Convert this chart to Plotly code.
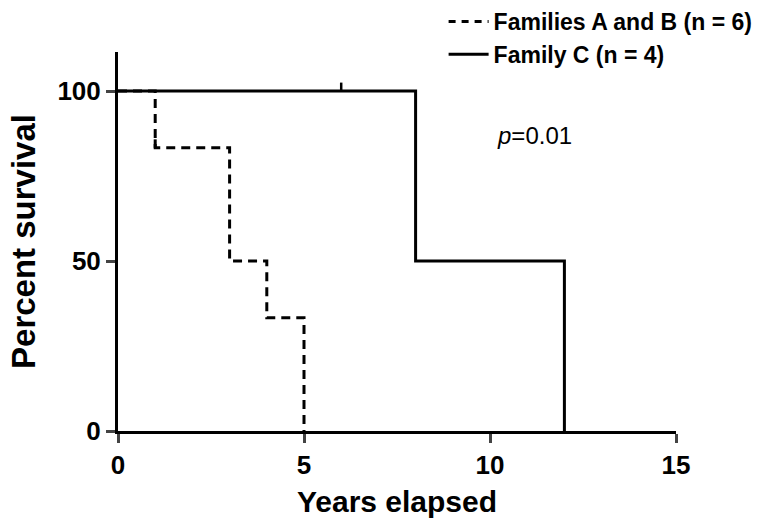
import plotly.graph_objects as go

# Kaplan-Meier step data
ab_times = [0, 1, 3, 4, 5]
ab_surv = [100, 83.3, 50, 33.3, 0]
ab_censor = [1]

c_times = [0, 8, 12]
c_surv = [100, 50, 0]
c_censor = [6]

x_ticks = [0, 5, 10, 15]
y_ticks = [0, 50, 100]

FONT = "Liberation Sans, Arial"

def step(times, surv):
    xs, ys = [], []
    for i, (t, s) in enumerate(zip(times, surv)):
        if i > 0:
            xs.append(t); ys.append(surv[i - 1])
        xs.append(t); ys.append(s)
    return xs, ys

def censor_marks(censor, times, surv):
    xs, ys = [], []
    for c in censor:
        s = [v for t, v in zip(times, surv) if t <= c][-1]
        xs += [c, c, None]
        ys += [s, s + 2.5, None]
    return xs, ys

fig = go.Figure()
ax, ay = step(ab_times, ab_surv)
cx, cy = step(c_times, c_surv)

fig.add_trace(go.Scatter(x=cx, y=cy, mode="lines", line=dict(color="black", width=3),
                         showlegend=False, cliponaxis=False))
fig.add_trace(go.Scatter(x=ax, y=ay, mode="lines", line=dict(color="black", width=3, dash="9px,6px"),
                         showlegend=False, cliponaxis=False))
mx, my = censor_marks(ab_censor, ab_times, ab_surv)
fig.add_trace(go.Scatter(x=mx, y=my, mode="lines", line=dict(color="black", width=3), showlegend=False))
mx, my = censor_marks(c_censor, c_times, c_surv)
fig.add_trace(go.Scatter(x=mx, y=my, mode="lines", line=dict(color="black", width=2.5), showlegend=False))

# legend entries
fig.add_trace(go.Scatter(x=[None], y=[None], mode="lines", line=dict(color="black", width=3, dash="7px,6px"),
                         name="Families A and B (n = 6)"))
fig.add_trace(go.Scatter(x=[None], y=[None], mode="lines", line=dict(color="black", width=3),
                         name="Family C (n = 4)"))

fig.add_annotation(x=(534 - 118) / 558 * 15, y=(431 - 135) / 379 * 111.5, xref="x", yref="y",
                   text="<i>p</i>=0.01", showarrow=False,
                   font=dict(family=FONT, size=24, color="black"), xanchor="center")

fig.update_layout(
    width=757, height=518,
    margin=dict(l=118, r=81, t=52, b=87, autoexpand=False),
    paper_bgcolor="white", plot_bgcolor="white",
    font=dict(family=FONT, color="black"),
    legend=dict(xref="container", yref="container", x=0.586, y=1.005, xanchor="left", yanchor="top",
                bgcolor="rgba(255,255,255,0)",
                font=dict(size=23, family=FONT, weight="bold"),
                tracegroupgap=0, itemwidth=40),
    xaxis=dict(range=[0, 15], tickvals=x_ticks, ticks="outside", ticklen=9, tickwidth=3,
               showline=True, linewidth=3, linecolor="black", showgrid=False, zeroline=False,
               tickfont=dict(size=26, weight="bold"),
               title=dict(text="Years elapsed", font=dict(size=30, weight="bold"), standoff=14)),
    yaxis=dict(range=[0, 111.5], tickvals=y_ticks, ticks="outside", ticklen=9, tickwidth=3,
               showline=True, linewidth=3, linecolor="black", showgrid=False, zeroline=False,
               tickfont=dict(size=26, weight="bold"),
               title=dict(text="Percent survival", font=dict(size=33, weight="bold"), standoff=12)),
)

fig.write_html("out.html")
